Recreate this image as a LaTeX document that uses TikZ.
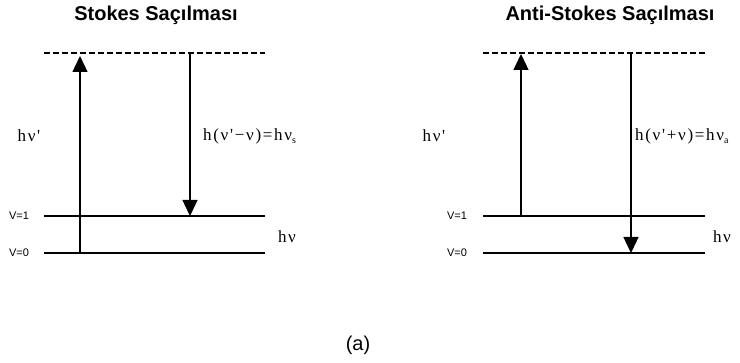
\documentclass[tikz,border=0pt]{standalone}
\usepackage{fontspec}
\setmainfont{Liberation Serif}
\newfontfamily\titlefont{Liberation Sans}
\newfontfamily\eqfont{Liberation Serif}[LetterSpace=10]
\usetikzlibrary{arrows.meta}
\begin{document}
\begin{tikzpicture}[x=1pt,y=-1pt,
  level/.style={line width=1.3pt},
  virt/.style={line width=1.3pt, dash pattern=on 6pt off 3pt},
  trans/.style={line width=1.3pt, -{Triangle[width=15pt,length=16pt]}},
  ttl/.style={font=\titlefont\bfseries\fontsize{20}{24}\selectfont, inner sep=0pt},
  vlab/.style={font=\titlefont\fontsize{11}{13}\selectfont, inner sep=0pt},
  elab/.style={font=\eqfont\fontsize{17}{20}\selectfont, inner sep=0pt}]
\useasboundingbox (0,0) rectangle (740,363);
% ---------- left: Stokes
\node[ttl] (t1) at (156,15) {Stokes Saçılması};
\coordinate (ld1) at (44,53);  \coordinate (ld2) at (265,53);
\coordinate (la1) at (44,216); \coordinate (la2) at (265,216);
\coordinate (lb1) at (44,253); \coordinate (lb2) at (265,253);
\draw[virt] (ld1) -- (ld2);
\draw[level] (la1) -- (la2);
\draw[level] (lb1) -- (lb2);
\coordinate (lu0) at (80,253); \coordinate (lu1) at (80,56);
\coordinate (ldn0) at (190,53); \coordinate (ldn1) at (190,216);
\draw[trans] (lu0) -- (lu1);
\draw[trans] (ldn0) -- (ldn1);
\node[vlab] (lv1) at (19,216) {V=1};
\node[vlab] (lv0) at (19,253) {V=0};
\node[elab] (lh1) at (29,136) {hν'};
\node[elab, anchor=west] (leq) at (203,136) {h(ν'−ν)=hν\raisebox{-3pt}{\fontsize{10}{12}\selectfont s}};
\node[elab] (lh2) at (287,237) {hν};
% ---------- right: Anti-Stokes
\node[ttl] (t2) at (610,15) {Anti-Stokes Saçılması};
\coordinate (rd1) at (483,53);  \coordinate (rd2) at (705,53);
\coordinate (ra1) at (483,216); \coordinate (ra2) at (705,216);
\coordinate (rb1) at (483,253); \coordinate (rb2) at (705,253);
\draw[virt] (rd1) -- (rd2);
\draw[level] (ra1) -- (ra2);
\draw[level] (rb1) -- (rb2);
\coordinate (ru0) at (521,216); \coordinate (ru1) at (521,54);
\coordinate (rdn0) at (631,53); \coordinate (rdn1) at (631,253);
\draw[trans] (ru0) -- (ru1);
\draw[trans] (rdn0) -- (rdn1);
\node[vlab] (rv1) at (457,216) {V=1};
\node[vlab] (rv0) at (457,253) {V=0};
\node[elab] (rh1) at (434,136) {hν'};
\node[elab, anchor=west] (req) at (635,136) {h(ν'+ν)=hν\raisebox{-3pt}{\fontsize{10}{12}\selectfont a}};
\node[elab] (rh2) at (722,237) {hν};
% ---------- caption
\node[font=\titlefont\fontsize{20}{24}\selectfont, inner sep=0pt] (cap) at (358,345) {(a)};
\end{tikzpicture}
\end{document}
